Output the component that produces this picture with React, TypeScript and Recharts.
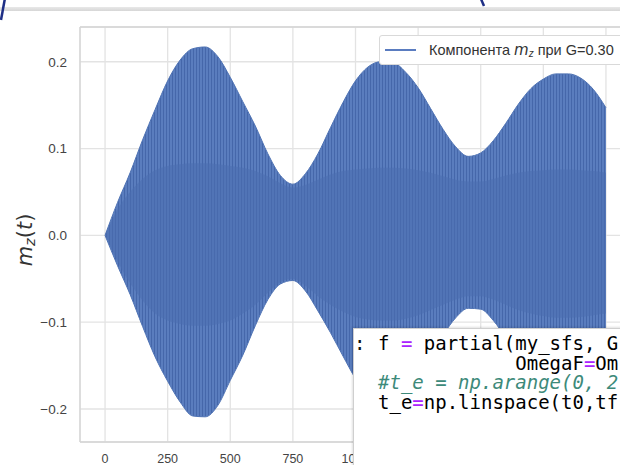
import { CSSProperties } from "react";
import {
  ComposedChart,
  Area,
  XAxis,
  YAxis,
  CartesianGrid,
  ReferenceLine,
  Legend,
} from "recharts";

// envelope of m_z(t) (the oscillation is too dense to show single cycles)
const times = [
  0, 50, 100, 150, 200, 250, 300, 350, 400, 450, 500, 550, 600, 650, 700, 750, 800, 850, 900, 950,
  1000, 1050, 1100, 1150, 1200, 1250, 1300, 1350, 1400, 1450, 1500, 1550, 1600, 1650, 1700, 1750,
  1800, 1850, 1900, 1950, 2000,
];
const upperEnv = [
  0, 0.038, 0.072, 0.11, 0.145, 0.178, 0.202, 0.215, 0.217, 0.206, 0.182, 0.154, 0.126, 0.094, 0.069,
  0.059, 0.071, 0.094, 0.124, 0.153, 0.178, 0.194, 0.2, 0.199, 0.188, 0.17, 0.146, 0.122, 0.102,
  0.091, 0.095, 0.109, 0.129, 0.151, 0.169, 0.18, 0.186, 0.186, 0.181, 0.168, 0.147,
];
const lowerEnv = [
  0, -0.035, -0.068, -0.105, -0.14, -0.168, -0.192, -0.208, -0.209, -0.196, -0.167, -0.138, -0.104,
  -0.074, -0.056, -0.052, -0.064, -0.087, -0.112, -0.139, -0.165, -0.185, -0.195, -0.195, -0.185,
  -0.165, -0.14, -0.115, -0.095, -0.084, -0.085, -0.098, -0.118, -0.14, -0.158, -0.17, -0.176,
  -0.177, -0.172, -0.16, -0.14,
];
// dense core where the cycles overlap into a solid fill
const coreUpper = [
  0, 0.03, 0.05, 0.065, 0.075, 0.08, 0.082, 0.083, 0.083, 0.082, 0.08, 0.078, 0.074, 0.068, 0.06,
  0.055, 0.058, 0.064, 0.07, 0.074, 0.076, 0.077, 0.078, 0.078, 0.077, 0.075, 0.072, 0.068, 0.064,
  0.062, 0.062, 0.065, 0.069, 0.072, 0.074, 0.075, 0.076, 0.076, 0.075, 0.074, 0.072,
];
const coreLower = [
  0, -0.03, -0.055, -0.075, -0.09, -0.098, -0.102, -0.104, -0.104, -0.102, -0.098, -0.09, -0.08,
  -0.066, -0.054, -0.05, -0.058, -0.07, -0.08, -0.088, -0.094, -0.097, -0.098, -0.098, -0.096,
  -0.092, -0.086, -0.08, -0.074, -0.07, -0.07, -0.074, -0.08, -0.086, -0.09, -0.093, -0.095,
  -0.095, -0.094, -0.092, -0.09,
];
const xTicks = [0, 250, 500, 750, 1000, 1250, 1500, 1750, 2000];
const yTicks = [-0.2, -0.1, 0, 0.1, 0.2];

// notebook cell that covers the lower right corner of the screenshot
const codeLines: [string, string, boolean][][] = [
  [["f ", "#000", false], ["=", "#aa22ff", false], [" partial(my_sfs, G", "#000", false]],
  [["            OmegaF", "#000", false], ["=", "#aa22ff", false], ["Om", "#000", false]],
  [["#t_e = np.arange(0, 2", "#3d8a7a", true]],
  [["t_e", "#000", false], ["=", "#aa22ff", false], ["np.linspace(t0,tf", "#000", false]],
];

const BLUE = "#4C72B0";
const SANS = "'Liberation Sans', Arial, sans-serif";

const data = times.map((t, i) => ({
  t,
  band: [lowerEnv[i], upperEnv[i]],
  core: [coreLower[i], coreUpper[i]],
}));

function fmtY(v: number) {
  const s = Math.abs(v).toFixed(1);
  return v < -1e-9 ? "\u2212" + s : s;
}

function YLabel() {
  return (
    <text
      x={25}
      y={240}
      transform="rotate(-90 25 240)"
      textAnchor="middle"
      dominantBaseline="central"
      fontFamily="'DejaVu Sans', sans-serif"
      fontSize={21}
      fill="#333"
    >
      <tspan fontStyle="italic">m</tspan>
      <tspan fontStyle="italic" fontSize={14.5} dy={5}>
        z
      </tspan>
      <tspan dy={-5}>(</tspan>
      <tspan fontStyle="italic">t</tspan>
      <tspan>)</tspan>
    </text>
  );
}

function LegendBox() {
  const boxStyle: CSSProperties = {
    display: "flex",
    alignItems: "center",
    height: "30px",
    width: "260px",
    background: "#fff",
    border: "1px solid #d9d9d9",
    borderRadius: "3px",
    boxSizing: "border-box",
    fontFamily: SANS,
    fontSize: "14.5px",
    color: "#333",
    whiteSpace: "nowrap",
  };
  const swatchStyle: CSSProperties = {
    width: "31px",
    height: "2px",
    background: "#5a7cc0",
    marginLeft: "5px",
    marginRight: "13px",
    flexShrink: 0,
  };
  return (
    <div style={boxStyle}>
      <span style={swatchStyle} />
      <span>
        Компонента <i style={{ fontFamily: "'DejaVu Sans', sans-serif", fontSize: "15px" }}>m</i>
        <sub style={{ fontStyle: "italic", fontSize: "10px", verticalAlign: "-2px" }}>z</sub> при G=0.30
      </span>
    </div>
  );
}

export default function App() {
  const frameStyle: CSSProperties = {
    position: "fixed",
    left: 0,
    top: 0,
    width: "620px",
    height: "465px",
    overflow: "hidden",
    background: "#fff",
  };

  const topBarStyle: CSSProperties = {
    position: "absolute",
    left: 0,
    top: "7px",
    width: "620px",
    height: "4px",
    background: "linear-gradient(#e8e8e8, #d6d6d6)",
  };

  const codeBoxStyle: CSSProperties = {
    position: "absolute",
    left: "353px",
    top: "328px",
    width: "300px",
    height: "160px",
    background: "#fff",
    borderLeft: "1px solid #cfcfcf",
    borderTop: "1px solid #cfcfcf",
    boxShadow: "-1px -1px 2px rgba(0,0,0,0.12)",
  };

  const monoStyle: CSSProperties = {
    position: "absolute",
    top: "5px",
    fontFamily: "'DejaVu Sans Mono', monospace",
    fontSize: "19px",
    lineHeight: "19.7px",
    whiteSpace: "pre",
    color: "#111",
  };

  return (
    <div style={frameStyle}>
      <div style={topBarStyle} />
      <svg width={620} height={30} style={{ position: "absolute", left: 0, top: 0 }}>
        <path d="M5 -2 L1 20" stroke="#1e2f86" strokeWidth={2.5} fill="none" />
        <path d="M481 -1 L484 6" stroke="#1e2f86" strokeWidth={2.5} fill="none" />
      </svg>
      <div style={{ position: "absolute", left: 0, top: 0 }}>
        <ComposedChart
          width={640}
          height={465}
          data={data}
          margin={{ top: 27, right: 9, bottom: 0, left: 0 }}
        >
          <defs>
            <pattern id="cycles" patternUnits="userSpaceOnUse" width={3} height={8}>
              <rect x={0} y={0} width={3} height={8} fill="#5a7dbe" />
              <rect x={1} y={0} width={1} height={8} fill="#4567aa" />
            </pattern>
          </defs>
          <CartesianGrid stroke="#e3e3e3" strokeWidth={1.3} />
          <XAxis
            dataKey="t"
            type="number"
            domain={[-100, 2100]}
            ticks={xTicks}
            interval={0}
            height={23}
            tickLine={false}
            tickSize={0}
            tickMargin={12}
            axisLine={{ stroke: "#d4d4d4", strokeWidth: 1.3 }}
            tick={{ fontSize: 12.5, fill: "#444", fontFamily: SANS }}
            allowDataOverflow
          />
          <YAxis
            type="number"
            domain={[-0.238, 0.24]}
            ticks={yTicks}
            interval={0}
            width={80}
            tickLine={false}
            tickSize={0}
            tickMargin={13}
            tickFormatter={fmtY}
            axisLine={{ stroke: "#d4d4d4", strokeWidth: 1.3 }}
            tick={{ fontSize: 13.5, fill: "#444", fontFamily: SANS }}
            label={{ content: () => <YLabel /> }}
            allowDataOverflow
          />
          <ReferenceLine y={0.24} stroke="#d4d4d4" strokeWidth={1.3} />
          <Area
            dataKey="band"
            name="m_z"
            type="monotone"
            stroke="#4f73b4"
            strokeWidth={1}
            fill="url(#cycles)"
            fillOpacity={1}
            isAnimationActive={false}
          />
          <Area
            dataKey="core"
            type="monotone"
            stroke="none"
            fill="#4a6eae"
            fillOpacity={0.55}
            isAnimationActive={false}
            legendType="none"
          />
          <Legend
            layout="horizontal"
            verticalAlign="middle"
            align="center"
            content={() => <LegendBox />}
            wrapperStyle={{ position: "absolute", left: 379, top: 35, width: 260 }}
          />
        </ComposedChart>
      </div>
      <div style={codeBoxStyle}>
        <div style={{ ...monoStyle, left: "0px" }}>:</div>
        <div style={{ ...monoStyle, left: "24px" }}>
          {codeLines.map((line, i) => (
            <div key={i}>
              {line.map(([txt, color, italic], j) => (
                <span key={j} style={{ color, fontStyle: italic ? "italic" : "normal" }}>
                  {txt}
                </span>
              ))}
            </div>
          ))}
        </div>
      </div>
    </div>
  );
}
